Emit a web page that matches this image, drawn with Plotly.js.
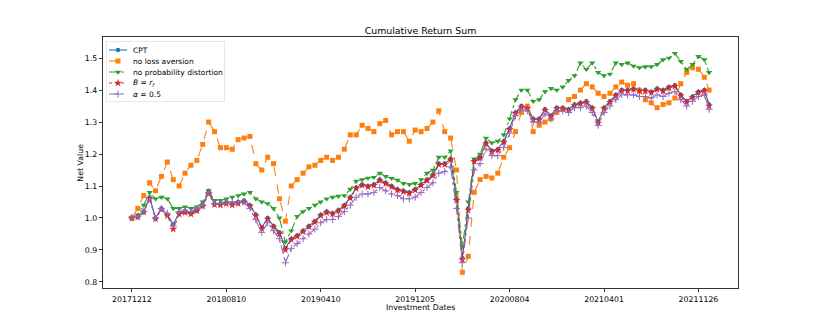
<!DOCTYPE html>
<html>
<head>
<meta charset="utf-8">
<script src="https://cdn.plot.ly/plotly-3.0.1.min.js"></script>
<style>
  html, body { margin: 0; padding: 0; background: #fff; }
  #chart { width: 822px; height: 329px; }
</style>
</head>
<body>
<div id="chart"></div>
<script>
// trading-day index of each sampled point
const dayIdx = [0, 10, 20, 30, 40, 50, 60, 70, 80, 90, 100, 110, 120, 130, 140, 150, 160, 170, 180, 190,
  200, 210, 220, 230, 240, 250, 260, 270, 280, 290, 300, 310, 320, 330, 340, 350, 360, 370, 380, 390,
  400, 410, 420, 430, 440, 450, 460, 470, 480, 490, 500, 510, 520, 530, 540, 550, 560, 570, 580, 590,
  600, 610, 620, 630, 640, 650, 660, 670, 680, 690, 700, 710, 720, 730, 740, 750, 760, 770, 780, 790,
  800, 810, 820, 830, 840, 850, 860, 870, 880, 890, 900, 910, 920, 930, 940, 950, 960, 970, 978];

const tickIdx = [0, 160, 320, 480, 640, 800, 960];
const tickLabels = ["20171212", "20180810", "20190410", "20191205", "20200804", "20210401", "20211126"];

const cpt = [1.00, 1.005, 1.02, 1.065, 1.00, 1.03, 1.01, 0.98, 1.015, 1.02,
  1.015, 1.025, 1.04, 1.085, 1.045, 1.045, 1.05, 1.045, 1.05, 1.055,
  1.04, 1.01, 0.97, 1.00, 0.975, 0.955, 0.905, 0.935, 0.945, 0.96,
  0.975, 0.99, 1.01, 1.02, 1.015, 1.025, 1.04, 1.065, 1.095, 1.105,
  1.10, 1.105, 1.12, 1.11, 1.10, 1.09, 1.085, 1.08, 1.09, 1.105,
  1.12, 1.135, 1.17, 1.17, 1.185, 1.06, 0.875, 1.03, 1.18, 1.19,
  1.235, 1.21, 1.215, 1.24, 1.28, 1.33, 1.35, 1.345, 1.31, 1.31,
  1.34, 1.32, 1.345, 1.345, 1.34, 1.355, 1.36, 1.365, 1.345, 1.30,
  1.345, 1.365, 1.385, 1.40, 1.40, 1.405, 1.40, 1.40, 1.395, 1.405,
  1.40, 1.41, 1.415, 1.385, 1.365, 1.38, 1.395, 1.40, 1.355];

const noLossAversion = [1.00, 1.03, 1.07, 1.11, 1.085, 1.13, 1.175, 1.12, 1.10, 1.14,
  1.165, 1.18, 1.23, 1.30, 1.27, 1.22, 1.22, 1.215, 1.245, 1.25,
  1.255, 1.17, 1.15, 1.19, 1.17, 1.06, 0.99, 1.10, 1.12, 1.14,
  1.16, 1.165, 1.18, 1.19, 1.18, 1.19, 1.215, 1.26, 1.26, 1.29,
  1.28, 1.27, 1.295, 1.305, 1.26, 1.27, 1.27, 1.24, 1.275, 1.27,
  1.28, 1.30, 1.335, 1.27, 1.25, 1.15, 0.83, 0.88, 1.08, 1.12,
  1.13, 1.125, 1.14, 1.19, 1.22, 1.27, 1.33, 1.35, 1.27, 1.29,
  1.30, 1.31, 1.33, 1.34, 1.37, 1.38, 1.40, 1.42, 1.41, 1.39,
  1.38, 1.39, 1.41, 1.425, 1.415, 1.42, 1.40, 1.37, 1.36, 1.345,
  1.355, 1.36, 1.375, 1.42, 1.455, 1.47, 1.465, 1.44, 1.40];

const noProbDistortion = [1.00, 1.01, 1.04, 1.08, 1.06, 1.065, 1.06, 1.03, 1.03, 1.035,
  1.03, 1.035, 1.05, 1.085, 1.055, 1.055, 1.06, 1.065, 1.07, 1.075,
  1.08, 1.06, 1.05, 1.045, 1.03, 1.00, 0.925, 0.96, 1.005, 1.02,
  1.03, 1.04, 1.05, 1.06, 1.065, 1.068, 1.07, 1.09, 1.115, 1.12,
  1.125, 1.127, 1.14, 1.13, 1.124, 1.118, 1.108, 1.105, 1.108, 1.12,
  1.14, 1.15, 1.19, 1.19, 1.21, 1.08, 0.91, 1.05, 1.185, 1.20,
  1.25, 1.235, 1.24, 1.26, 1.31, 1.37, 1.40, 1.40, 1.365, 1.37,
  1.395, 1.405, 1.40, 1.41, 1.43, 1.445, 1.485, 1.465, 1.485, 1.455,
  1.445, 1.45, 1.485, 1.48, 1.485, 1.475, 1.47, 1.473, 1.473, 1.48,
  1.495, 1.50, 1.515, 1.49, 1.465, 1.48, 1.505, 1.495, 1.455];

const riskFree = [1.00, 1.003, 1.018, 1.06, 0.997, 1.027, 1.007, 0.965, 1.012, 1.017,
  1.012, 1.022, 1.037, 1.075, 1.042, 1.04, 1.045, 1.04, 1.045, 1.05,
  1.037, 1.007, 0.967, 0.997, 0.972, 0.95, 0.90, 0.932, 0.942, 0.957,
  0.972, 0.987, 1.007, 1.017, 1.012, 1.022, 1.037, 1.062, 1.092, 1.102,
  1.097, 1.102, 1.117, 1.107, 1.097, 1.087, 1.082, 1.077, 1.087, 1.102,
  1.117, 1.132, 1.167, 1.167, 1.182, 1.055, 0.87, 1.025, 1.177, 1.187,
  1.232, 1.207, 1.212, 1.237, 1.277, 1.327, 1.347, 1.342, 1.307, 1.307,
  1.337, 1.317, 1.342, 1.342, 1.337, 1.352, 1.357, 1.362, 1.342, 1.297,
  1.342, 1.362, 1.382, 1.397, 1.397, 1.402, 1.397, 1.397, 1.392, 1.402,
  1.397, 1.407, 1.412, 1.382, 1.362, 1.377, 1.392, 1.397, 1.35];

const alphaHalf = [1.00, 1.005, 1.02, 1.06, 1.00, 1.03, 1.015, 0.975, 1.02, 1.025,
  1.02, 1.03, 1.04, 1.08, 1.045, 1.045, 1.05, 1.05, 1.05, 1.05,
  1.03, 0.995, 0.955, 0.985, 0.96, 0.935, 0.86, 0.905, 0.92, 0.935,
  0.95, 0.965, 0.985, 0.995, 0.995, 1.005, 1.02, 1.04, 1.065, 1.075,
  1.075, 1.08, 1.095, 1.085, 1.075, 1.07, 1.06, 1.06, 1.065, 1.08,
  1.095, 1.11, 1.14, 1.145, 1.16, 1.03, 0.86, 1.00, 1.15, 1.17,
  1.215, 1.195, 1.195, 1.22, 1.265, 1.32, 1.34, 1.335, 1.30, 1.30,
  1.325, 1.31, 1.335, 1.335, 1.33, 1.345, 1.345, 1.35, 1.33, 1.29,
  1.33, 1.35, 1.37, 1.385, 1.385, 1.385, 1.38, 1.38, 1.375, 1.385,
  1.38, 1.39, 1.395, 1.37, 1.35, 1.365, 1.38, 1.385, 1.34];

const seriesNames = ["CPT", "no loss aversion", "no probability distortion",
  "<i>B</i> = <i>r</i><sub><i>f</i></sub>", "<i>α</i> = 0.5"];

const styles = [
  { color: "#1f77b4", dash: "solid", symbol: "circle", size: 4.5 },
  { color: "#ff7f0e", dash: "dash", symbol: "square", size: 5 },
  { color: "#2ca02c", dash: "dashdot", symbol: "triangle-down", size: 5.5 },
  { color: "#d62728", dash: "dot", symbol: "star", size: 6 },
  { color: "#9467bd", dash: "dashdot", symbol: "cross-thin", size: 5 }
];
const seriesValues = [cpt, noLossAversion, noProbDistortion, riskFree, alphaHalf];

function markerFor(s) {
  return { color: s.color, symbol: s.symbol, size: s.size,
    line: { color: s.color, width: s.symbol === "cross-thin" ? 1 : 0 } };
}

const traces = seriesValues.map((y, i) => ({
  x: dayIdx,
  y: y,
  name: seriesNames[i],
  type: "scatter",
  mode: "lines+markers",
  showlegend: false,
  line: { color: styles[i].color, width: 1.1, dash: styles[i].dash },
  marker: markerFor(styles[i])
}));

// hand-drawn legend in its own little axes (pixel units), matplotlib style
const legendRows = [9, 20, 31, 42, 53];
const legendAnnotations = [];
styles.forEach((s, i) => {
  traces.push({
    x: [3, 21], y: [legendRows[i], legendRows[i]],
    xaxis: "x2", yaxis: "y2", type: "scatter", mode: "lines",
    showlegend: false, hoverinfo: "skip",
    line: { color: s.color, width: 1.1, dash: s.dash }
  });
  traces.push({
    x: [12], y: [legendRows[i]],
    xaxis: "x2", yaxis: "y2", type: "scatter", mode: "markers",
    showlegend: false, hoverinfo: "skip",
    marker: markerFor(s)
  });
  legendAnnotations.push({
    text: seriesNames[i], xref: "x2", yref: "y2", x: 25, y: legendRows[i],
    xanchor: "left", yanchor: "middle", showarrow: false,
    font: { family: "DejaVu Sans", size: 7.5, color: "#000" }
  });
});

const layout = {
  width: 822,
  height: 329,
  margin: { l: 103, r: 84, t: 37, b: 41 },
  paper_bgcolor: "#fff",
  plot_bgcolor: "#fff",
  font: { family: "DejaVu Sans", size: 7.8, color: "#000" },
  showlegend: false,
  title: {
    text: "Cumulative Return Sum",
    font: { family: "DejaVu Sans", size: 9.4, color: "#000" },
    x: 0.5, xref: "paper", xanchor: "center",
    y: 0.906, yref: "container", yanchor: "middle"
  },
  xaxis: {
    domain: [0, 1],
    range: [-49, 1027],
    tickmode: "array",
    tickvals: tickIdx,
    ticktext: tickLabels,
    ticks: "outside", ticklen: 3.5, tickwidth: 0.8, tickcolor: "#000",
    showgrid: false, zeroline: false,
    showline: true, linecolor: "#000", linewidth: 0.8, mirror: true
  },
  yaxis: {
    domain: [0, 1],
    range: [0.781, 1.566],
    tickvals: [0.8, 0.9, 1.0, 1.1, 1.2, 1.3, 1.4, 1.5],
    tickformat: ".1f",
    ticks: "outside", ticklen: 3.5, tickwidth: 0.8, tickcolor: "#000",
    showgrid: false, zeroline: false,
    showline: true, linecolor: "#000", linewidth: 0.8, mirror: true
  },
  xaxis2: { domain: [0.0047, 0.1921], range: [0, 119], visible: false, anchor: "y2" },
  yaxis2: { domain: [0.741, 0.984], range: [61, 0], visible: false, anchor: "x2" },
  shapes: [{
    type: "rect", xref: "x2", yref: "y2", x0: 0, x1: 119, y0: 0, y1: 61,
    fillcolor: "rgba(255,255,255,0.8)", line: { color: "#d0d0d0", width: 1 }, layer: "below"
  }],
  annotations: legendAnnotations.concat([
    {
      text: "Investment Dates", xref: "paper", yref: "paper", x: 0.5, y: -0.0757,
      xanchor: "center", yanchor: "middle", showarrow: false,
      font: { family: "DejaVu Sans", size: 7.8, color: "#000" }
    },
    {
      text: "Net Value", xref: "paper", yref: "paper", x: -0.036, y: 0.5,
      xanchor: "center", yanchor: "middle", textangle: -90, showarrow: false,
      font: { family: "DejaVu Sans", size: 7.8, color: "#000" }
    }
  ])
};

Plotly.newPlot("chart", traces, layout, { displayModeBar: false, staticPlot: true });
</script>
</body>
</html>
